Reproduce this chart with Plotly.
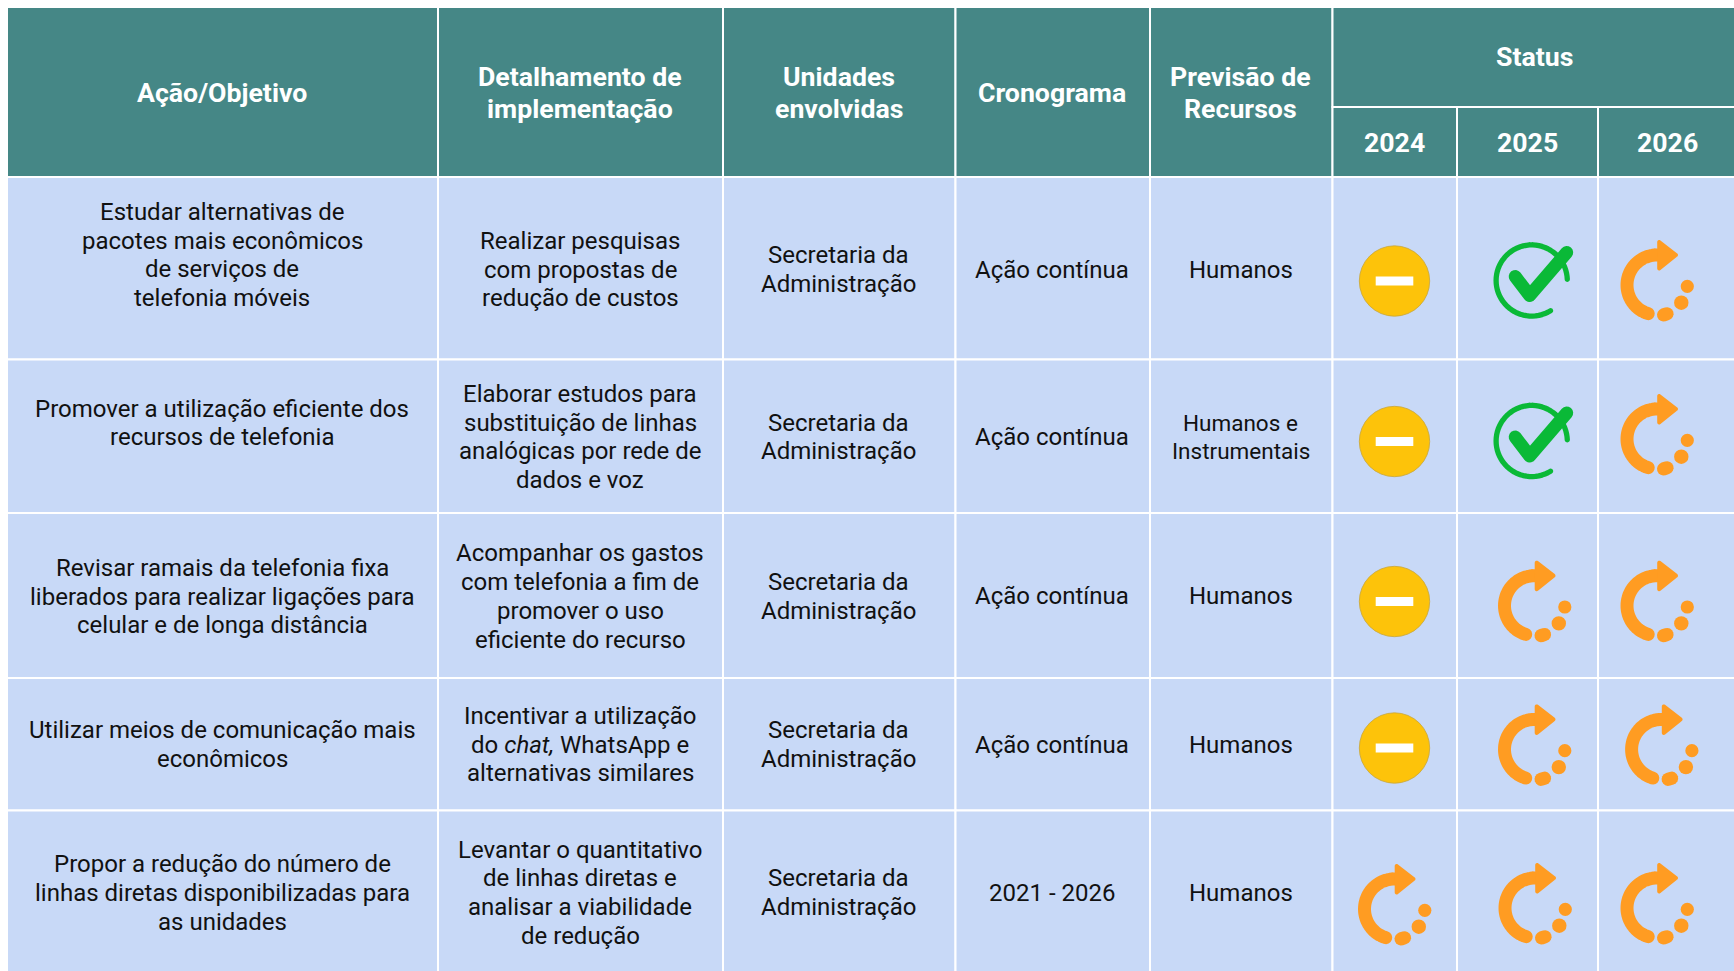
import numpy as np
import plotly.graph_objects as go

# ---------- data ----------
headers = ["Ação/Objetivo", "Detalhamento de<br>implementação", "Unidades<br>envolvidas",
           "Cronograma", "Previsão de<br>Recursos"]
group_header = "Status"
years = ["2024", "2025", "2026"]
acoes = [
    "Estudar alternativas de<br>pacotes mais econômicos<br>de serviços de<br>telefonia móveis",
    "Promover a utilização eficiente dos<br>recursos de telefonia",
    "Revisar ramais da telefonia fixa<br>liberados para realizar ligações para<br>celular e de longa distância",
    "Utilizar meios de comunicação mais<br>econômicos",
    "Propor a redução do número de<br>linhas diretas disponibilizadas para<br>as unidades",
]
detalhes = [
    "Realizar pesquisas<br>com propostas de<br>redução de custos",
    "Elaborar estudos para<br>substituição de linhas<br>analógicas por rede de<br>dados e voz",
    "Acompanhar os gastos<br>com telefonia a fim de<br>promover o uso<br>eficiente do recurso",
    "Incentivar a utilização<br>do <i>chat,</i> WhatsApp e<br>alternativas similares",
    "Levantar o quantitativo<br>de linhas diretas e<br>analisar a viabilidade<br>de redução",
]
unidades = ["Secretaria da<br>Administração"] * 5
cronograma = ["Ação contínua", "Ação contínua", "Ação contínua", "Ação contínua", "2021 - 2026"]
recursos = ["Humanos", "Humanos e<br>Instrumentais", "Humanos", "Humanos", "Humanos"]
status_2024 = ["parcial", "parcial", "parcial", "parcial", "andamento"]
status_2025 = ["concluido", "concluido", "andamento", "andamento", "andamento"]
status_2026 = ["andamento", "andamento", "andamento", "andamento", "andamento"]

# ---------- layout (pixel grid of the page) ----------
col_edges = [7, 438, 723, 955.5, 1150, 1332.5, 1457, 1598, 1737]
row_edges = [7, 177, 359.5, 513, 678, 810.5, 975]
status_split = 107
row_centers = [269.5, 437, 596.3, 744.5, 892.8]
first_col_centers = [255, 423, 596.5, 744.5, 892.8]
icon_x = {"2024": [1394.5, 1394.5, 1394.5, 1394.5, 1394.5],
          "2025": [1531.7, 1531.7, 1534.5, 1534.5, 1535],
          "2026": [1657, 1657, 1657, 1661.6, 1657]}
icon_y = {"2024": [281, 441.5, 601.5, 748, 909],
          "2025": [280.5, 441, 605.7, 749.4, 908],
          "2026": [285, 439, 605.7, 749.4, 908]}

TEAL, BLUE, INK = "#458786", "#C8D9F7", "#111111"
YELLOW, GREEN, ORANGE = "#FDC30A", "#0AB937", "#FF9C22"
FONT = "Roboto"
BODY_SIZE, SMALL_SIZE, HEAD_SIZE = 24, 22.5, 26.7
BODY_PITCH, HEAD_PITCH = 28.8, 32

shapes, annotations = [], []


def rect(x0, x1, y0, y1, fill):
    shapes.append(dict(type="rect", x0=x0, x1=x1, y0=y0, y1=y1, fillcolor=fill,
                       line=dict(color="#FFFFFF", width=2), layer="below"))


def text_block(cx, cy, txt, size, pitch, color, bold=False):
    lines = txt.split("<br>")
    for i, ln in enumerate(lines):
        annotations.append(dict(
            x=cx, y=cy + (i - (len(lines) - 1) / 2) * pitch, text=ln, showarrow=False,
            xanchor="center", yanchor="middle", align="center",
            font=dict(family=FONT, size=size, color=color, weight=700 if bold else 400)))


def capsule(p, q, w):
    a = np.arctan2(q[1] - p[1], q[0] - p[0])
    pts = []
    for t in np.linspace(a - np.pi / 2, a + np.pi / 2, 9):
        pts.append((q[0] + w / 2 * np.cos(t), q[1] + w / 2 * np.sin(t)))
    for t in np.linspace(a + np.pi / 2, a + 3 * np.pi / 2, 9):
        pts.append((p[0] + w / 2 * np.cos(t), p[1] + w / 2 * np.sin(t)))
    return pts


def to_path(poly):
    return "M" + " L".join(f"{x:.2f},{y:.2f}" for x, y in poly) + " Z"


def stroke(points, w):
    return " ".join(to_path(capsule(points[i], points[i + 1], w)) for i in range(len(points) - 1))


def arc(cx, cy, r, a0, a1, n=40):
    return [(cx + r * np.cos(t), cy + r * np.sin(t)) for t in np.radians(np.linspace(a0, a1, n))]


def add_path(path, color):
    shapes.append(dict(type="path", path=path, fillcolor=color, fillrule="nonzero",
                       line=dict(width=0), layer="above"))


def add_circle(cx, cy, r, color, line=None):
    shapes.append(dict(type="circle", x0=cx - r, x1=cx + r, y0=cy - r, y1=cy + r, fillcolor=color,
                       line=dict(color=line, width=0.8) if line else dict(width=0), layer="above"))


def icon_minus(cx, cy):
    add_circle(cx, cy, 35.2, YELLOW, "#C8A63A")
    shapes.append(dict(type="rect", x0=cx - 18.8, x1=cx + 18.8, y0=cy - 4.5, y1=cy + 4.5,
                       fillcolor="#FFFFFF", line=dict(width=0), layer="above"))


def icon_check(cx, cy):
    add_path(stroke(arc(cx, cy, 35.6, -2, -302, 60), 5.3), GREEN)
    tick = [(cx - 16.5, cy - 4), (cx - 2, cy + 15), (cx + 35, cy - 28)]
    add_path(stroke(tick, 13), GREEN)


def icon_refresh(cx, cy):
    add_path(stroke(arc(cx, cy, 30, 270, 107), 13), ORANGE)
    tri = [(cx + 2.2, cy - 43), (cx + 19, cy - 30), (cx + 2.2, cy - 16.5), (cx + 2.2, cy - 43)]
    add_path(to_path(tri[:3]) + " " + stroke(tri, 4), ORANGE)
    add_circle(cx + 30.3, cy + 1.3, 6.6, ORANGE)
    add_circle(cx + 24.3, cy + 17.7, 7.2, ORANGE)
    add_path(stroke([(cx + 6.6, cy + 29.9), (cx + 10, cy + 28.8)], 13.2), ORANGE)


ICONS = {"parcial": icon_minus, "concluido": icon_check, "andamento": icon_refresh}

# ---------- header ----------
for i, h in enumerate(headers):
    rect(col_edges[i], col_edges[i + 1], row_edges[0], row_edges[1], TEAL)
    text_block((col_edges[i] + col_edges[i + 1]) / 2 - 0.5, 92.8, h, HEAD_SIZE, HEAD_PITCH, "#FFFFFF", True)
rect(col_edges[5], col_edges[8], row_edges[0], status_split, TEAL)
text_block(1534.5, 56.5, group_header, HEAD_SIZE, HEAD_PITCH, "#FFFFFF", True)
for j, y in enumerate(years):
    rect(col_edges[5 + j], col_edges[6 + j], status_split, row_edges[1], TEAL)
    text_block((col_edges[5 + j] + col_edges[6 + j]) / 2 - 0.5, 142.7, y, HEAD_SIZE, HEAD_PITCH, "#FFFFFF", True)

# ---------- body ----------
columns = [acoes, detalhes, unidades, cronograma, recursos]
status = {"2024": status_2024, "2025": status_2025, "2026": status_2026}
for r in range(5):
    for c in range(8):
        rect(col_edges[c], col_edges[c + 1], row_edges[r + 1], row_edges[r + 2], BLUE)
    for c, col in enumerate(columns):
        cy = first_col_centers[r] if c == 0 else row_centers[r]
        size = SMALL_SIZE if col is recursos and "<br>" in col[r] else BODY_SIZE
        text_block((col_edges[c] + col_edges[c + 1]) / 2 - 0.5, cy, col[r], size, BODY_PITCH, INK)
    for y in years:
        ICONS[status[y][r]](icon_x[y][r], icon_y[y][r])

fig = go.Figure()
fig.update_layout(
    width=1734, height=971, autosize=False, margin=dict(l=0, r=0, t=0, b=0, pad=0),
    paper_bgcolor="#FFFFFF", plot_bgcolor="#FFFFFF", showlegend=False,
    xaxis=dict(range=[0, 1734], visible=False, fixedrange=True),
    yaxis=dict(range=[971, 0], visible=False, fixedrange=True),
    shapes=shapes, annotations=annotations,
)
fig.write_html("out.html", config={"displayModeBar": False},
               post_script="document.body.style.margin='0';document.body.style.overflow='hidden';")
